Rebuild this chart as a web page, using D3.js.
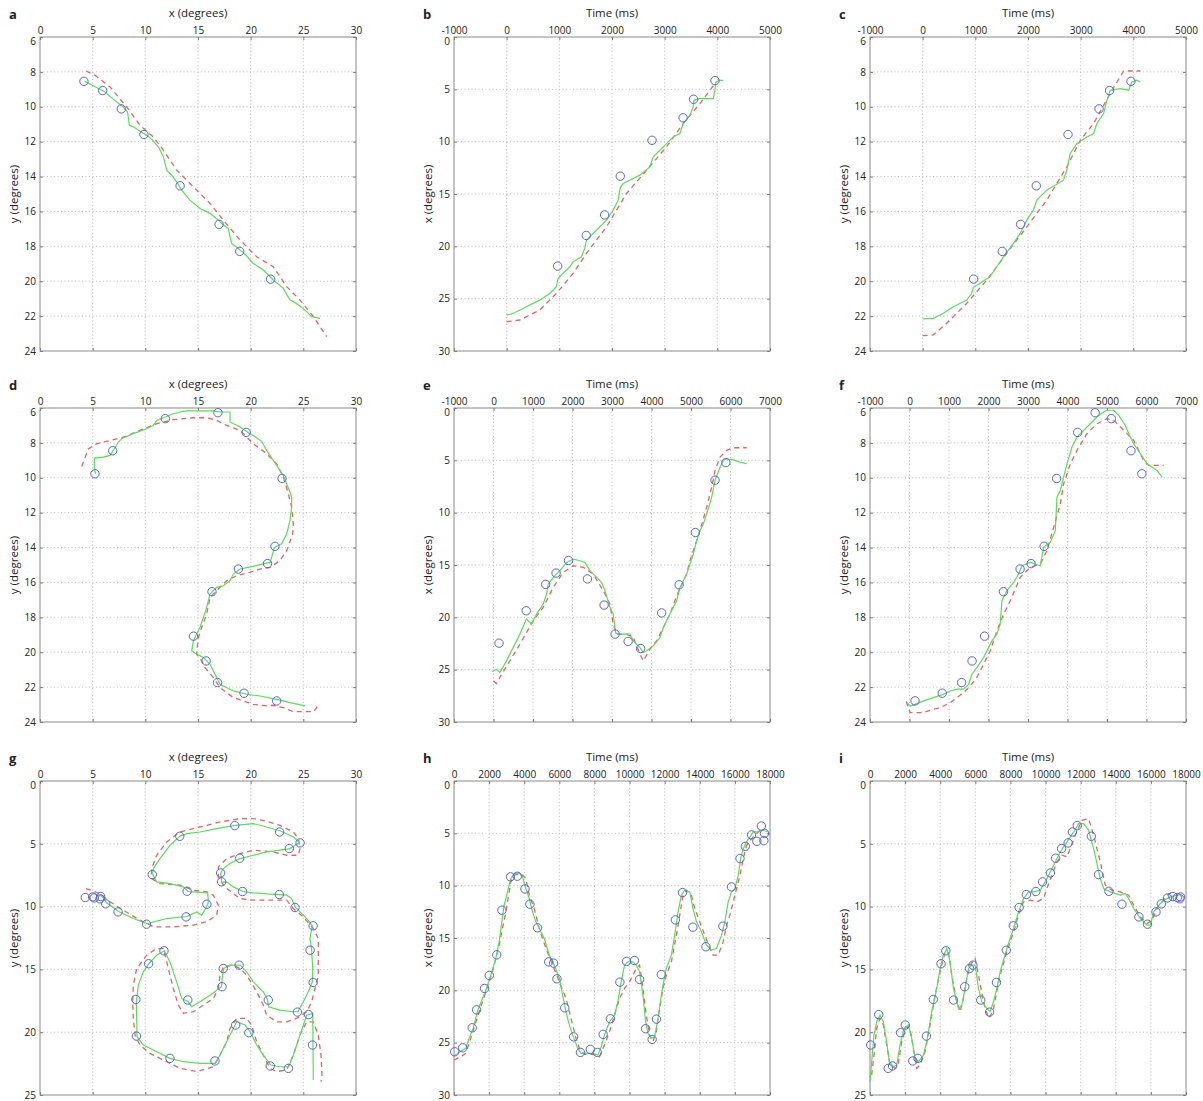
<!DOCTYPE html>
<html><head><meta charset="utf-8">
<script src="https://cdn.jsdelivr.net/npm/d3@7"></script>
<style>body{margin:0;background:#fff} text{font-family:"Open Sans",sans-serif;fill:#222}</style>
</head><body><script>
// ---------- Trial 1 (panels a, b, c) ----------
const circ1T = [968, 1511, 1860, 2157, 2760, 3350, 3549, 3955];
const circ1X = [21.89, 18.96, 17.0, 13.3, 9.87, 7.72, 5.95, 4.17];
const circ1Y = [19.88, 18.29, 16.74, 14.53, 11.59, 10.12, 9.07, 8.54];

const aGreenX = [4.21,5.38,6.01,7.28,7.91,8.32,8.48,8.86,9.49,10.13,10.76,11.33,11.71,12.03,12.50,12.97,13.45,14.24,15.19,16.14,16.93,17.41,17.88,18.04,18.20,18.83,19.62,20.25,21.20,22.15,23.10,23.73,24.05,24.68,25.32,25.79,26.58];
const aGreenY = [8.54,8.90,9.09,9.72,10.01,10.33,11.06,11.15,11.40,11.63,11.95,12.39,12.87,13.63,13.92,14.30,14.78,15.35,15.83,16.11,16.50,16.78,16.97,17.45,17.83,18.12,18.56,18.98,19.36,19.93,20.41,21.08,21.17,21.42,21.74,22.03,22.13];
const aRedX = [4.37,5.22,6.65,8.23,9.49,10.76,11.71,12.97,14.56,16.14,17.41,18.99,20.57,22.15,23.42,24.68,25.95,27.22];
const aRedY = [7.95,8.19,8.86,10.01,11.06,11.73,12.49,13.63,14.59,15.54,16.50,17.64,18.60,19.17,20.31,21.08,22.03,23.18];

const bGreenT = [0,120,374,627,817,944,976,1071,1198,1261,1419,1483,1515,1641,1768,1895,2022,2117,2148,2167,2212,2338,2528,2719,2782,2909,3035,3162,3289,3352,3479,3542,3555,3669,3923,3954,3973,4049,4113];
const bGreenX = [26.57,26.41,25.77,25.14,24.50,23.86,23.07,22.59,21.95,21.48,21.0,20.20,19.41,18.77,18.14,17.50,16.54,15.59,14.64,14.32,14.0,13.68,13.20,12.41,11.45,10.82,10.18,9.55,9.23,8.27,7.48,6.68,6.05,5.89,5.89,5.09,4.30,4.14,4.14];
const bRedT = [0,247,627,944,1261,1515,1895,2275,2655,3035,3352,3669,3859,3954];
const bRedX = [27.2,27.04,26.09,24.50,22.59,20.68,18.14,14.95,12.73,10.50,8.27,6.36,5.09,4.45];

const cGreenT = [0,203,393,583,836,932,963,1090,1280,1407,1534,1724,1850,1977,2104,2167,2357,2674,2738,2801,2928,3118,3245,3308,3435,3498,3561,3751,3910,3973,4068,4132];
const cGreenY = [22.16,22.13,21.84,21.46,21.08,20.69,20.35,20.12,19.74,19.17,18.60,17.83,17.26,16.50,15.92,15.35,14.78,14.21,13.63,12.68,12.11,11.73,11.53,10.96,10.39,9.63,9.05,8.96,9.05,8.58,8.48,8.58];
const cRedT = [0,203,456,836,1217,1597,1977,2357,2738,2991,3245,3561,3815,4132];
const cRedY = [23.12,23.08,22.41,21.27,19.93,18.40,16.88,15.35,13.44,11.92,10.96,9.24,7.95,7.95];

// ---------- Trial 2 (panels d, e, f) ----------
const circ2T = [140,828,1320,1584,1900,2378,2800,3078,3408,3725,4257,4700,5110,5608,5882];
const circ2X = [22.47,19.37,16.85,15.77,14.57,16.33,18.83,21.6,22.3,22.98,19.58,16.89,11.9,6.9,5.22];
const circ2Y = [22.79,22.35,21.74,20.50,19.08,16.53,15.23,14.92,13.93,10.04,7.40,6.27,6.61,8.45,9.77];

const dGreenX = [5.28,5.16,5.16,6.01,6.65,7.12,7.44,7.75,8.86,10.13,10.76,11.08,11.71,12.66,13.29,13.92,15.19,16.46,17.09,18.04,18.04,18.99,19.94,20.57,21.04,21.52,22.15,22.78,23.10,23.42,23.73,23.89,23.89,23.73,23.42,22.94,22.25,21.99,21.84,21.20,20.25,18.99,18.35,18.04,17.41,16.77,16.14,15.82,15.51,15.19,14.87,14.56,14.40,14.87,15.51,16.14,16.77,17.09,18.35,19.62,20.89,22.47,23.73,25.16];
const dGreenY = [9.77,9.49,8.87,8.82,8.72,8.28,7.95,7.76,7.47,7.19,7.00,6.71,6.56,6.33,6.23,6.17,6.17,6.17,6.23,6.23,6.80,7.09,7.47,7.70,7.91,8.43,9.01,9.58,9.87,10.35,10.83,11.11,11.69,12.45,13.22,13.79,13.99,14.56,14.85,14.94,15.08,15.23,15.52,15.90,16.19,16.28,16.67,17.43,18.01,18.58,18.96,19.35,19.92,20.11,20.30,20.69,21.45,21.84,22.22,22.41,22.51,22.70,22.89,23.08];
const dRedX = [3.96,4.59,5.38,6.65,7.91,9.49,11.08,12.66,14.56,15.82,16.77,17.72,18.99,20.25,21.52,22.47,23.10,23.58,23.89,24.05,23.99,23.42,22.78,21.84,20.89,19.94,18.67,17.72,17.09,16.77,16.14,15.82,15.35,15.03,14.87,15.35,15.66,16.46,17.09,18.35,20.25,21.52,22.15,23.10,24.05,25.95,26.27,26.11];
const dRedY = [9.35,8.34,8.05,7.86,7.67,7.28,6.90,6.67,6.56,6.56,6.71,7.00,7.28,8.05,8.62,9.20,9.96,10.92,11.69,12.65,13.22,14.18,14.75,15.13,15.23,15.42,15.61,15.90,16.28,16.47,16.86,17.82,18.58,19.16,20.11,20.50,20.88,21.45,22.03,22.60,22.99,23.08,23.04,23.18,23.41,23.41,23.18,22.89];

const eGreenT = [-42,76,160,329,498,667,794,836,963,1090,1258,1343,1385,1512,1681,1850,2019,2188,2314,2441,2610,2736,2821,2948,3032,3074,3100,3201,3454,3539,3708,3792,3877,4046,4215,4299,4468,4637,4721,4890,5059,5144,5228,5313,5397,5524,5608,5735,5819,5904,6073,6242,6410];
const eGreenX = [25.18,24.96,25.28,24.16,22.89,21.61,20.49,20.17,20.65,19.69,18.74,17.78,16.82,16.18,15.54,14.75,14.43,14.59,14.75,15.54,16.18,16.66,17.46,19.05,19.69,20.97,21.54,21.61,21.61,22.25,22.89,23.36,23.20,22.73,21.93,20.97,19.69,18.42,17.14,15.86,13.95,12.67,11.71,11.08,10.12,8.52,6.93,5.65,5.01,4.85,4.95,5.17,5.33];
const eRedT = [0,76,160,414,667,836,1005,1258,1512,1765,2019,2272,2525,2779,2948,3032,3117,3370,3539,3708,3792,3961,4130,4299,4468,4637,4890,4975,5059,5228,5397,5524,5608,5735,5904,6073,6410];
const eRedX = [26.08,26.33,25.76,24.16,22.57,21.45,20.33,19.05,17.14,15.70,15.07,15.22,15.86,17.46,18.74,20.65,21.61,21.61,21.93,23.52,24.16,23.04,22.25,20.97,19.69,17.94,15.86,14.59,13.63,11.71,9.48,7.56,5.97,4.69,4.05,3.80,3.80];

const fGreenT = [-68,17,144,355,608,861,1030,1199,1368,1495,1579,1706,1875,2086,2213,2297,2340,2466,2635,2762,2846,3057,3311,3395,3564,3691,3733,3818,3902,3986,4113,4240,4409,4578,4747,4916,5000,5169,5296,5465,5591,5676,5845,6014,6267,6394];
const fGreenY = [22.89,23.08,22.99,22.79,22.60,22.41,22.22,22.12,22.12,21.84,21.26,20.88,20.30,19.35,18.96,18.39,17.05,16.47,16.00,15.52,15.04,14.85,15.04,13.99,13.70,13.03,11.11,10.73,9.96,9.20,8.24,7.67,7.28,6.90,6.52,6.23,6.13,6.13,6.42,7.00,7.67,8.05,8.62,9.20,9.58,9.96];
const fRedT = [-84,17,355,608,777,1030,1199,1368,1537,1706,1875,2044,2213,2382,2551,2804,3057,3311,3480,3649,3818,3902,4071,4240,4493,4747,5000,5169,5338,5507,5676,5802,5929,6056,6436];
const fRedY = [22.83,23.46,23.46,23.27,23.18,22.89,22.60,22.32,21.93,21.45,20.69,19.92,18.77,17.82,17.05,15.71,15.13,14.94,14.18,12.84,11.50,10.35,9.20,8.43,7.47,6.90,6.61,6.71,7.09,7.47,7.86,8.43,9.01,9.29,9.29];

// ---------- Trial 3 (panels g, h, i) ----------
const circ3T = [38,495,1038,1285,1741,2008,2436,2731,3216,3606,4044,4320,4758,5395,5671,5862,6309,6813,7203,7764,8164,8497,8906,9449,9829,10276,10571,10914,11285,11532,11808,12608,13017,13606,14349,15319,15804,16290,16594,16946,17250,17507,17650,17688];
const circ3X = [25.87,25.49,23.58,21.86,19.82,18.58,16.61,12.34,9.16,9.10,10.31,11.77,14.03,17.28,17.40,18.90,21.67,24.44,25.93,25.64,25.93,24.21,22.72,19.22,17.24,17.15,18.96,23.67,24.69,22.75,18.49,13.27,10.66,13.97,15.84,13.87,10.12,7.41,6.24,5.15,5.76,4.30,5.70,5.0];
const circ3Y = [21.02,18.6,22.88,22.69,20.04,19.43,22.29,22.08,20.31,17.39,14.55,13.52,17.44,16.38,14.93,14.66,17.44,18.40,16.04,13.47,11.53,10.07,9.04,8.80,8.03,7.32,6.15,5.38,4.93,4.06,3.55,4.40,7.45,8.78,9.81,10.82,11.40,10.42,9.78,9.31,9.20,9.28,9.38,9.23];

const gGreenX = [25.95,25.89,25.32,24.68,24.05,23.61,22.78,21.90,21.20,20.57,19.94,19.46,18.67,18.35,17.72,17.09,16.61,15.19,13.61,12.34,11.08,9.81,9.21,9.18,9.15,9.34,9.81,10.35,11.08,11.80,12.34,12.97,13.45,14.08,14.40,15.19,16.14,17.22,17.34,17.44,18.04,18.99,19.62,20.25,21.20,21.61,21.68,22.78,24.05,24.49,25.0,25.47,25.85,25.89,25.79,25.63,25.85,25.32,24.68,24.24,23.89,23.42,22.72,21.52,20.25,19.24,18.35,17.72,17.25,17.15,17.41,18.04,18.99,20.25,21.52,23.67,24.62,24.05,22.82,21.52,20.25,18.54,16.77,15.19,13.92,13.32,12.34,11.39,10.76,10.70,11.08,12.34,13.61,14.05,14.56,15.92,15.98,15.92,15.82,15.35,14.87,13.96,12.03,10.19,8.86,7.47,6.33,5.85,5.38];
const gGreenY = [23.81,18.50,18.64,20.23,21.82,22.75,22.75,22.61,21.82,21.02,19.96,19.43,19.17,19.70,20.76,21.82,22.48,22.48,22.35,22.08,21.55,21.02,20.36,18.90,17.58,16.25,15.19,14.53,13.87,13.52,14.40,15.99,17.31,17.58,17.97,17.58,17.05,16.38,15.46,14.93,14.66,14.66,15.19,15.99,16.78,17.42,17.97,18.24,18.37,18.37,17.58,16.78,16.01,14.93,13.47,12.54,11.51,10.95,10.42,10.05,9.36,9.09,9.04,8.99,8.91,8.80,8.43,8.03,8.06,7.34,6.97,6.57,6.18,5.91,5.65,5.41,4.90,4.45,3.98,3.66,3.39,3.53,3.79,4.06,4.19,4.37,5.12,6.18,6.97,7.45,8.03,8.17,8.43,8.80,8.83,8.91,9.62,9.81,10.02,10.68,10.42,10.79,10.95,11.35,10.95,10.39,9.70,9.12,9.15];
const gRedX = [4.37,5.70,6.65,7.91,9.49,10.76,12.66,14.56,15.82,16.77,16.93,16.46,15.82,14.56,13.29,11.39,10.60,10.60,11.08,12.03,13.29,15.19,17.09,18.99,20.25,21.52,22.78,24.05,24.53,24.68,24.53,23.42,22.15,20.25,18.99,17.72,16.93,16.93,17.72,18.99,20.25,22.15,23.42,24.05,25.0,25.95,26.42,26.42,26.42,26.11,25.79,25.32,24.37,23.42,22.47,21.52,21.20,20.57,19.62,18.99,18.35,17.41,17.09,16.93,16.46,15.51,14.56,13.61,13.13,12.66,12.34,12.03,11.71,11.08,10.13,9.18,8.86,8.80,8.86,9.02,9.49,10.44,12.03,13.29,14.87,16.46,17.09,17.72,18.04,18.67,19.62,20.09,20.57,21.20,21.84,22.47,23.42,24.05,24.68,25.32,25.95,26.42,26.68,26.77,26.68];
const gRedY = [8.56,8.96,9.62,10.29,11.08,11.61,11.61,11.48,11.21,10.68,9.89,9.09,8.83,8.70,8.30,8.17,7.77,6.97,5.91,4.85,4.06,3.66,3.26,3.0,3.0,3.21,3.53,4.06,4.59,5.38,5.91,5.91,5.65,5.51,5.78,6.18,6.84,7.77,8.56,9.36,9.49,9.49,9.49,10.15,10.82,11.74,12.54,14.40,15.46,16.52,17.58,18.37,18.90,19.17,19.17,18.64,17.84,16.78,15.46,14.93,14.66,14.79,15.46,16.52,17.31,17.84,18.37,18.50,17.84,16.52,15.46,14.40,13.34,13.34,13.87,14.93,16.25,17.58,18.90,20.23,21.02,21.69,22.35,22.88,23.14,22.75,21.82,20.76,19.70,18.90,18.90,19.43,20.76,21.82,22.88,23.14,23.01,21.82,20.23,19.17,19.17,20.23,21.82,23.41,23.94];

const hGreenT = [57,476,667,857,1086,1333,1619,1848,2095,2381,2571,2724,2857,3048,3238,3429,3714,3905,4095,4286,4476,4667,4857,5143,5429,5714,6000,6190,6381,6571,6762,7048,7238,7524,7905,8190,8381,8571,8857,9143,9333,9524,9714,9905,10190,10381,10571,10762,10914,11048,11238,11429,11619,11810,11905,12095,12381,12571,12762,12952,13143,13429,13619,13810,14095,14381,14667,14952,15238,15429,15619,15810,16000,16190,16324,16476,16667,16857,17048,17333,17619,17905];
const hGreenX = [26.19,25.71,25.55,24.59,23.64,22.05,20.78,19.82,18.55,16.96,15.37,13.46,11.87,10.59,9.32,8.85,8.78,9.16,10.28,11.23,12.50,13.46,14.09,15.05,16.64,17.59,18.87,20.46,22.05,23.32,24.28,25.55,26.03,26.03,26.03,26.19,25.39,24.28,23.0,22.37,21.09,19.19,17.59,17.28,17.28,17.59,18.23,20.46,23.0,24.12,24.59,24.44,22.69,20.46,19.50,17.91,16.64,14.73,12.50,10.91,10.44,10.59,12.19,13.46,14.41,15.69,16.16,16.0,14.73,13.46,11.55,10.59,10.28,9.0,7.41,6.46,5.82,5.35,4.87,4.87,4.71,4.87];
const hRedT = [0,381,667,952,1429,1810,2190,2571,2952,3238,3429,3810,4095,4286,4571,4857,5238,5619,6000,6381,6571,6762,6952,7143,7429,7905,8286,8571,8857,9143,9429,9714,10000,10190,10381,10571,10762,10952,11143,11333,11524,11714,11905,12095,12381,12667,12857,13048,13238,13524,13714,14000,14286,14571,14762,15048,15333,15524,15714,15905,16095,16286,16476,16667,16952,17238,17524];
const hRedX = [26.66,26.34,26.03,24.59,22.05,20.14,18.23,15.69,12.50,9.64,9.0,8.85,9.32,10.91,12.19,14.09,16.0,17.59,19.19,20.78,22.05,23.32,24.59,25.55,26.12,26.12,26.34,25.23,23.96,22.37,20.78,19.82,19.19,18.55,17.91,17.59,19.82,22.37,24.28,24.91,23.96,21.73,19.82,18.55,17.28,14.73,12.82,10.91,10.44,10.91,12.19,13.46,14.73,16.0,16.64,16.64,15.37,13.78,12.82,11.55,10.28,9.0,7.41,6.14,5.50,5.03,4.55];

const iGreenT = [0,95,228,380,570,760,951,1103,1331,1521,1711,1939,2186,2376,2567,2757,3042,3232,3517,3802,3992,4183,4373,4563,4753,5038,5228,5418,5608,5798,5989,6179,6369,6654,6844,7034,7224,7414,7795,8175,8460,8745,9030,9316,9696,9981,10266,10456,10837,11217,11597,11882,12167,12452,12738,13118,13308,13688,14259,14544,14734,15019,15399,15779,15970,16160,16445,16730,17110,17490];
const iGreenY = [23.94,22.35,20.23,19.17,18.64,19.17,20.76,22.35,22.75,22.61,21.02,19.70,19.43,20.49,22.08,22.35,21.82,20.76,18.37,16.52,14.93,13.87,13.34,14.40,16.52,18.11,17.84,16.52,14.93,14.66,14.66,16.52,17.58,18.11,18.37,17.58,16.52,15.19,13.34,11.74,10.42,9.36,8.83,8.83,8.70,8.03,7.24,6.71,5.65,4.85,4.06,3.39,3.39,3.92,5.38,7.77,8.56,8.83,9.09,8.96,9.36,10.15,10.95,11.48,11.48,10.42,9.89,9.49,9.23,9.09];
const iRedT = [95,228,380,570,760,951,1141,1426,1616,1806,2053,2281,2471,2662,2852,3137,3422,3707,3992,4278,4468,4658,4943,5133,5323,5513,5703,5989,6179,6464,6749,6996,7224,7414,7795,8175,8460,8745,9125,9506,9886,10076,10361,10646,10932,11217,11407,11692,12072,12452,12738,13118,13403,13783,14259,14734,15019,15399,15779,16065,16350,16635,16920,17205];
const iRedY = [23.41,21.82,19.70,18.90,19.43,21.02,22.61,22.88,22.48,20.76,19.57,19.70,21.29,22.88,22.61,21.55,19.43,17.05,15.19,13.60,13.60,15.46,17.58,18.37,17.31,15.72,14.66,14.13,15.46,17.58,18.90,18.37,16.78,15.46,13.60,12.01,10.68,9.62,9.49,9.62,9.36,8.56,7.50,6.44,5.91,6.04,5.38,4.32,3.13,3.0,4.32,6.44,8.30,8.70,8.83,9.09,9.89,10.82,11.35,11.08,10.15,9.62,9.09,8.83];

// ---------- Axis ticks ----------
const ticksDeg30 = [0,5,10,15,20,25,30];
const ticksTime5k = [-1000,0,1000,2000,3000,4000,5000];
const ticksTime7k = [-1000,0,1000,2000,3000,4000,5000,6000,7000];
const ticksTime18k = [0,2000,4000,6000,8000,10000,12000,14000,16000,18000];
const ticksY6to24 = [6,8,10,12,14,16,18,20,22,24];
const ticksY0to30 = [0,5,10,15,20,25,30];
const ticksY0to25 = [0,5,10,15,20,25];

const zip = (a, b) => a.map((v, i) => [v, b[i]]);

const cols = [40, 454, 870], rows = [37, 408, 781];
const PW = 316, PH = 314;

const panels = [
  {L:'a', c:0, r:0, xt:ticksDeg30, yt:ticksY6to24, xl:'x (degrees)', yl:'y (degrees)', green:zip(aGreenX,aGreenY), red:zip(aRedX,aRedY), circ:zip(circ1X,circ1Y)},
  {L:'b', c:1, r:0, xt:ticksTime5k, yt:ticksY0to30, xl:'Time (ms)', yl:'x (degrees)', green:zip(bGreenT,bGreenX), red:zip(bRedT,bRedX), circ:zip(circ1T,circ1X)},
  {L:'c', c:2, r:0, xt:ticksTime5k, yt:ticksY6to24, xl:'Time (ms)', yl:'y (degrees)', green:zip(cGreenT,cGreenY), red:zip(cRedT,cRedY), circ:zip(circ1T,circ1Y)},
  {L:'d', c:0, r:1, xt:ticksDeg30, yt:ticksY6to24, xl:'x (degrees)', yl:'y (degrees)', green:zip(dGreenX,dGreenY), red:zip(dRedX,dRedY), circ:zip(circ2X,circ2Y)},
  {L:'e', c:1, r:1, xt:ticksTime7k, yt:ticksY0to30, xl:'Time (ms)', yl:'x (degrees)', green:zip(eGreenT,eGreenX), red:zip(eRedT,eRedX), circ:zip(circ2T,circ2X)},
  {L:'f', c:2, r:1, xt:ticksTime7k, yt:ticksY6to24, xl:'Time (ms)', yl:'y (degrees)', green:zip(fGreenT,fGreenY), red:zip(fRedT,fRedY), circ:zip(circ2T,circ2Y)},
  {L:'g', c:0, r:2, xt:ticksDeg30, yt:ticksY0to25, xl:'x (degrees)', yl:'y (degrees)', green:zip(gGreenX,gGreenY), red:zip(gRedX,gRedY), circ:zip(circ3X,circ3Y)},
  {L:'h', c:1, r:2, xt:ticksTime18k, yt:ticksY0to30, xl:'Time (ms)', yl:'x (degrees)', green:zip(hGreenT,hGreenX), red:zip(hRedT,hRedX), circ:zip(circ3T,circ3X)},
  {L:'i', c:2, r:2, xt:ticksTime18k, yt:ticksY0to25, xl:'Time (ms)', yl:'y (degrees)', green:zip(iGreenT,iGreenY), red:zip(iRedT,iRedY), circ:zip(circ3T,circ3Y)}
];

const svg = d3.select('body').append('svg').attr('width', 1203).attr('height', 1101);

panels.forEach(p => {
  const left = cols[p.c], top = rows[p.r];
  const g = svg.append('g').attr('transform', `translate(${left},${top})`);
  const x = d3.scaleLinear().domain(d3.extent(p.xt)).range([0, PW]);
  const y = d3.scaleLinear().domain(d3.extent(p.yt)).range([0, PH]);
  const fmt = d => String(d);

  // grid
  g.append('g').selectAll('line').data(p.xt.slice(1, -1)).join('line')
    .attr('x1', d => x(d)).attr('x2', d => x(d)).attr('y1', 0).attr('y2', PH)
    .attr('stroke', '#aaa').attr('stroke-width', 0.8).attr('stroke-dasharray', '1,2.5');
  g.append('g').selectAll('line').data(p.yt.slice(1, -1)).join('line')
    .attr('y1', d => y(d)).attr('y2', d => y(d)).attr('x1', 0).attr('x2', PW)
    .attr('stroke', '#aaa').attr('stroke-width', 0.8).attr('stroke-dasharray', '1,2.5');

  // axes (ticks inward)
  const styleAxis = sel => {
    sel.select('.domain').remove();
    sel.selectAll('.tick line').attr('stroke', '#777');
    sel.selectAll('.tick text').attr('font-size', 10).attr('fill', '#3a3a3a').style('font-family', '"Open Sans",sans-serif');
  };
  g.append('g').call(d3.axisTop(x).tickValues(p.xt).tickSizeInner(-3).tickSizeOuter(0).tickPadding(3).tickFormat(fmt)).call(styleAxis);
  g.append('g').attr('transform', `translate(0,${PH})`).call(d3.axisBottom(x).tickValues(p.xt).tickSizeInner(-3).tickSizeOuter(0).tickFormat('')).call(styleAxis);
  const yAx = g.append('g').call(d3.axisLeft(y).tickValues(p.yt).tickSizeInner(-3).tickSizeOuter(0).tickPadding(4).tickFormat(fmt)).call(styleAxis);
  // top y label sits slightly below the corner, as in the reference
  yAx.selectAll('.tick text').filter((d, i) => i === 0).attr('dy', '0.75em');
  g.append('g').attr('transform', `translate(${PW},0)`).call(d3.axisRight(y).tickValues(p.yt).tickSizeInner(-3).tickSizeOuter(0).tickFormat('')).call(styleAxis);

  // frame
  g.append('rect').attr('width', PW).attr('height', PH).attr('fill', 'none').attr('stroke', '#8a8a8a').attr('stroke-width', 1);

  // data
  const line = d3.line().x(d => x(d[0])).y(d => y(d[1]));
  g.append('path').datum(p.red).attr('d', line).attr('fill', 'none')
    .attr('stroke', '#ee6060').attr('stroke-width', 1.3).attr('stroke-dasharray', '5,4');
  g.append('path').datum(p.green).attr('d', line).attr('fill', 'none')
    .attr('stroke', '#55e055').attr('stroke-width', 1.2);
  g.selectAll('circle').data(p.circ).join('circle')
    .attr('cx', d => x(d[0])).attr('cy', d => y(d[1])).attr('r', 4.2)
    .attr('fill', 'none').attr('stroke', '#5565dd').attr('stroke-width', 1);

  // labels
  g.append('text').attr('x', PW / 2).attr('y', -20).attr('text-anchor', 'middle')
    .attr('font-size', 11.5).text(p.xl);
  g.append('text').attr('transform', `translate(-22,${PH / 2}) rotate(-90)`).attr('text-anchor', 'middle')
    .attr('font-size', 11.5).text(p.yl);
  g.append('text').attr('x', -31).attr('y', -18).attr('font-size', 13).attr('font-weight', 'bold').text(p.L);
});
</script></body></html>
